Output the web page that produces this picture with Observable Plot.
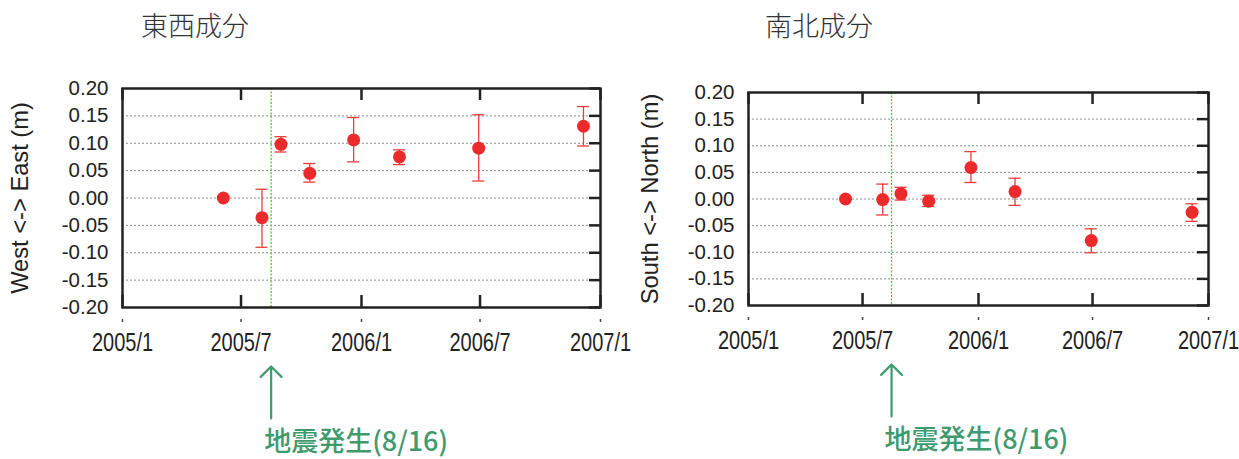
<!DOCTYPE html>
<html><head><meta charset="utf-8">
<script src="https://cdn.jsdelivr.net/npm/d3@7"></script>
<script src="https://cdn.jsdelivr.net/npm/@observablehq/plot@0.6"></script>
<style>
body{margin:0;background:#fff;}
#wrap{position:relative;width:1239px;height:459px;overflow:hidden;background:#fff;}
.panel{position:absolute;top:0;}
.panel svg{overflow:visible;background:transparent;}
.title{position:absolute;top:11px;font-family:"Noto Sans CJK JP",sans-serif;font-weight:300;font-size:27px;line-height:1;color:#333;white-space:nowrap;}
</style></head><body><div id="wrap"></div>
<script>
// observation dates (shared by both components)
const dates = ["2005-06-04","2005-08-02","2005-08-31","2005-10-14","2005-12-20","2006-02-28","2006-06-29","2006-12-06"];
// East-West component (m)
const eastValues = [0.000,-0.036,0.098,0.045,0.106,0.075,0.091,0.131];
const eastLow    = [null,-0.090,0.084,0.029,0.066,0.061,0.031,0.095];
const eastHigh   = [null, 0.016,0.112,0.063,0.147,0.088,0.152,0.167];
// North-South component (m)
const northValues = [0.000,-0.001,0.010,-0.004,0.059,0.014,-0.078,-0.025];
const northLow    = [null,-0.030,-0.002,-0.014,0.031,-0.012,-0.101,-0.042];
const northHigh   = [null, 0.028, 0.022, 0.007,0.089, 0.039,-0.056,-0.009];
// ticks
const xTickDates  = ["2005-01-01","2005-07-01","2006-01-01","2006-07-01","2007-01-01"];
const xTickLabels = ["2005/1","2005/7","2006/1","2006/7","2007/1"];
const yTicks = [-0.20,-0.15,-0.10,-0.05,0.00,0.05,0.10,0.15,0.20];
const quakeDate = "2005-08-16";
const quakeLabel = "地震発生(8/16)";
const titles = ["東西成分","南北成分"];
const yLabels = ["West <-> East (m)","South <-> North (m)"];

const RED = "#ec2a2b", BAR = "#ec3b3b", GREEN = "#3f9a6e", INK = "#222";

function panel({values, low, high, yLabel, width, mL, mR, mT, mB, labelDx}) {
  const H = 459;
  const fh = H - mT - mB, fw = width - mL - mR;
  const rows = dates.map((d, i) => ({date: new Date(d), v: values[i], lo: low[i], hi: high[i]}));
  const bars = rows.filter(r => r.lo != null);
  const ticksX = xTickDates.map(d => new Date(d));
  const fmt = new Map(ticksX.map((d, i) => [+d, xTickLabels[i]]));
  const q = [new Date(quakeDate)];
  const svg = Plot.plot({
    width, height: H, marginLeft: mL, marginRight: mR, marginTop: mT, marginBottom: mB,
    style: {fontFamily: "'Liberation Sans', Arial, sans-serif", background: "transparent", color: INK, overflow: "visible"},
    x: {type: "utc", domain: [ticksX[0], ticksX[ticksX.length - 1]]},
    y: {domain: [-0.2, 0.2]},
    marks: [
      Plot.ruleY(yTicks.slice(1, -1), {stroke: "#8c8c8c", strokeDasharray: "2,2", strokeWidth: 1}),
      Plot.ruleX(q, {stroke: "#4ccc1a", strokeDasharray: "2,1.5", strokeWidth: 1.3}),
      Plot.ruleX(ticksX, {stroke: INK, strokeWidth: 2.5, insetBottom: fh - 12}),
      Plot.ruleX(ticksX, {stroke: INK, strokeWidth: 2.5, insetTop: fh - 12}),
      Plot.ruleY(yTicks, {stroke: INK, strokeWidth: 2.5, insetLeft: fw - 11}),
      Plot.ruleX(ticksX, {stroke: "#444", strokeWidth: 1.5, insetTop: fh + 12, insetBottom: -15}),
      Plot.frame({stroke: INK, strokeWidth: 2.5}),
      Plot.ruleX(bars, {x: "date", y1: "lo", y2: "hi", stroke: BAR, strokeWidth: 1.3}),
      Plot.ruleY(bars, {y: "lo", x1: "date", x2: "date", insetLeft: -6, insetRight: -6, stroke: BAR, strokeWidth: 1.3}),
      Plot.ruleY(bars, {y: "hi", x1: "date", x2: "date", insetLeft: -6, insetRight: -6, stroke: BAR, strokeWidth: 1.3}),
      Plot.dot(rows, {x: "date", y: "v", r: 6.5, fill: RED}),
      Plot.axisY({ticks: yTicks, tickSize: 0, tickPadding: 14, tickFormat: d => d.toFixed(2), fontSize: 20.5, label: null}),
      Plot.axisX({ticks: ticksX, tickSize: 0, tickPadding: 26, tickFormat: d => fmt.get(+d), fontSize: 25, label: null}),
      Plot.text([yLabel], {frameAnchor: "left", textAnchor: "middle", rotate: -90, dx: labelDx, fontSize: 23.7, fill: INK}),
      Plot.vector(q, {x: d => d, frameAnchor: "bottom", dy: 111, length: 52, rotate: 0, anchor: "start",
                      stroke: GREEN, strokeWidth: 2.2}),
      Plot.text([quakeLabel], {x: () => q[0], frameAnchor: "bottom", dy: 143, dx: -7, textAnchor: "start",
                               fontSize: 27, fontWeight: 500, fill: GREEN,
                               fontFamily: "'Noto Sans CJK JP', sans-serif"})
    ]
  });
  // condense the x tick labels horizontally (the original uses a narrow face)
  svg.querySelectorAll('g[aria-label="x-axis tick label"] text').forEach(t => {
    const tr = t.getAttribute("transform");
    if (tr) t.setAttribute("transform", tr + " scale(0.8,1)");
  });
  return svg;
}

const wrap = document.getElementById("wrap");
const specs = [
  {left: 0,   width: 620, mL: 122, mR: 20, mT: 88, mB: 152, labelDx: -102, values: eastValues, low: eastLow, high: eastHigh, titleX: 141},
  {left: 620, width: 619, mL: 128, mR: 31, mT: 92, mB: 154, labelDx: -98,  values: northValues, low: northLow, high: northHigh, titleX: 765}
];
specs.forEach((s, i) => {
  const div = document.createElement("div");
  div.className = "panel";
  div.style.left = s.left + "px";
  div.appendChild(panel({...s, yLabel: yLabels[i]}));
  wrap.appendChild(div);
  const t = document.createElement("div");
  t.className = "title";
  t.style.left = s.titleX + "px";
  t.textContent = titles[i];
  wrap.appendChild(t);
});
</script>
</body></html>
